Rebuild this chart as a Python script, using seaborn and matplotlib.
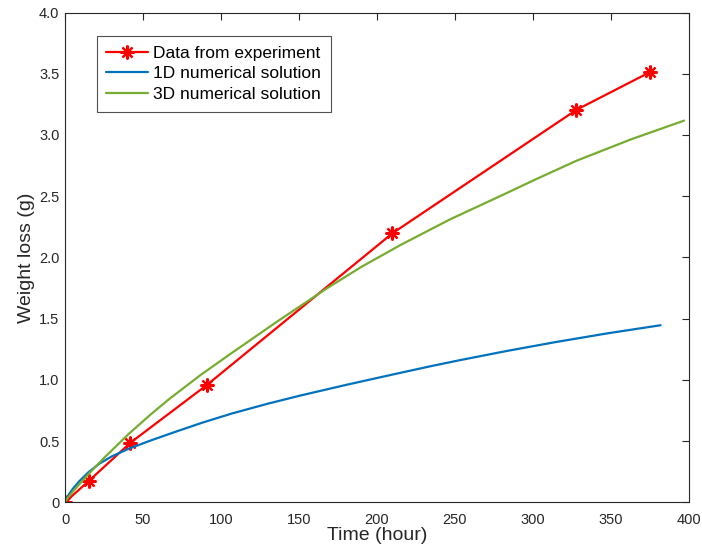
import numpy as np
import pandas as pd
import matplotlib
matplotlib.use('Agg')
import matplotlib.pyplot as plt
import seaborn as sns

# experiment points
t_exp = [0, 15.5, 42, 91, 210, 328, 375]
w_exp = [0, 0.177, 0.487, 0.958, 2.197, 3.205, 3.512]

# 1D numerical solution
t_1d = [0, 2, 5, 9, 15, 22, 30, 41, 55, 70, 88, 107, 130, 151, 180, 210, 234,
        253, 283, 314, 348, 382]
w_1d = [0, 0.055, 0.11, 0.17, 0.245, 0.315, 0.375, 0.438, 0.505, 0.572, 0.65,
        0.725, 0.805, 0.872, 0.958, 1.043, 1.11, 1.16, 1.235, 1.307, 1.38, 1.446]

# 3D numerical solution
t_3d = [0, 2, 5, 9, 15, 25, 41, 55, 67, 87, 107, 137, 168, 190, 215, 247, 279,
        303, 328, 363, 397]
w_3d = [0, 0.04, 0.087, 0.145, 0.23, 0.362, 0.56, 0.718, 0.845, 1.04, 1.22,
        1.484, 1.748, 1.922, 2.10, 2.311, 2.50, 2.644, 2.789, 2.964, 3.117]

sns.set_style('white')
plt.rcParams['font.family'] = ['Liberation Sans', 'DejaVu Sans']
axcol = '#262626'

fig = plt.figure(figsize=(7.02, 5.56), dpi=100)
ax = fig.add_axes([0.0926, 0.0966, 0.8884, 0.8809])

sns.lineplot(x=t_exp, y=w_exp, ax=ax, color='#ff0000', lw=1.6, marker=(8, 2, 0),
             markersize=10, markeredgecolor='#ff0000', markeredgewidth=1.6,
             estimator=None, label='Data from experiment')
sns.lineplot(x=t_1d, y=w_1d, ax=ax, color='#0072bd', lw=1.6, estimator=None,
             label='1D numerical solution')
sns.lineplot(x=t_3d, y=w_3d, ax=ax, color='#77ac30', lw=1.6, estimator=None,
             label='3D numerical solution')

ax.set_xlim(0, 400)
ax.set_ylim(0, 4)
ax.set_xticks(np.arange(0, 401, 50))
ax.set_yticks(np.arange(0, 4.01, 0.5))
ax.set_yticklabels(['0'] + ['%.1f' % v for v in np.arange(0.5, 4.01, 0.5)])
ax.tick_params(direction='in', length=5, width=0.8, colors=axcol, labelsize=10.5,
               top=True, right=True, pad=4)
ax.tick_params(axis='x', pad=8)
for s in ax.spines.values():
    s.set_color(axcol)
    s.set_linewidth(0.8)

ax.set_xlabel('Time (hour)', fontsize=14, color=axcol, labelpad=0)
ax.set_ylabel('Weight loss (g)', fontsize=14, color=axcol, labelpad=3)

leg = ax.legend(loc='upper left', bbox_to_anchor=(0.051, 0.952), borderaxespad=0,
                fontsize=12.5, frameon=True, fancybox=False, handlelength=2.4,
                handletextpad=0.3, borderpad=0.55, labelspacing=0.32)
leg.get_frame().set_edgecolor(axcol)
leg.get_frame().set_linewidth(0.8)
for txt in leg.get_texts():
    txt.set_color('black')

fig.savefig('out.png', dpi=100)
